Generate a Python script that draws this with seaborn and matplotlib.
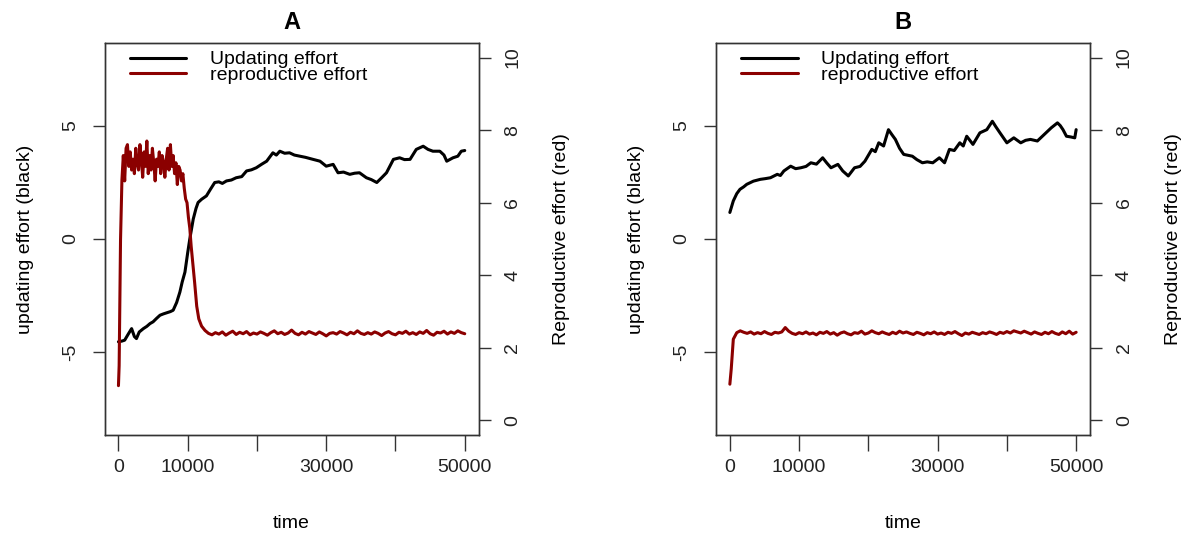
import numpy as np
import pandas as pd
import matplotlib
matplotlib.use("Agg")
import matplotlib.pyplot as plt
import seaborn as sns

# ---- data ----
# panel A, updating effort (left axis)
upd_a_time = [0, 500, 900, 1400, 1900, 2300, 2600, 3000, 3600, 4100,
              4550, 5000, 5500, 6000, 6500, 7000, 7500, 7900, 8400, 8870,
              9200, 9600, 10000, 10300, 10800, 11200, 11500, 12000, 12700, 13300,
              13900, 14500, 15000, 15600, 16300, 17000, 17800, 18500, 19200, 19900,
              20700, 21400, 22300, 22800, 23300, 24000, 24700, 25400, 26200, 27000,
              28100, 29100, 30000, 31000, 31700, 32500, 33400, 34100, 34800, 35800,
              36500, 37300, 38000, 38700, 39700, 40600, 41300, 42100, 43000, 44000,
              44700, 45400, 46400, 47000, 47400, 48300, 49000, 49500, 50000]
upd_a = [-4.53, -4.50, -4.46, -4.2, -3.95, -4.3, -4.39, -4.1, -3.95, -3.85,
         -3.73, -3.65, -3.5, -3.36, -3.3, -3.25, -3.2, -3.14, -2.8, -2.34,
         -1.9, -1.46, -0.6, 0.0, 0.88, 1.35, 1.61, 1.75, 1.90, 2.2,
         2.49, 2.52, 2.45, 2.56, 2.6, 2.70, 2.75, 3.0, 3.05, 3.14,
         3.3, 3.43, 3.80, 3.7, 3.87, 3.78, 3.80, 3.7, 3.65, 3.6,
         3.51, 3.43, 3.21, 3.29, 2.92, 2.95, 2.85, 2.9, 2.92, 2.70,
         2.62, 2.49, 2.7, 2.92, 3.51, 3.58, 3.5, 3.51, 3.95, 4.09,
         3.95, 3.87, 3.87, 3.7, 3.43, 3.58, 3.65, 3.87, 3.9]

# panel A, reproductive effort (right axis)
rep_a_time = ([0, 100, 300, 500] + list(range(700, 9800, 200))
              + [9900, 10100, 10300, 10500, 10800, 11000, 11300, 11600, 12000, 12500]
              + list(range(13000, 50001, 500)))
rep_a = ([0.96, 1.51, 4.98, 6.62]
         + [7.3, 6.6, 7.5, 7.6, 7.0, 7.4, 6.9, 7.2, 6.8, 7.5,
            7.1, 6.9, 7.6, 7.2, 6.7, 7.4, 7.0, 7.7, 6.8, 7.3,
            6.9, 7.5, 7.1, 6.6, 7.2, 7.0, 7.4, 6.8, 7.3, 7.1,
            6.7, 7.2, 7.5, 6.9, 7.6, 7.0, 7.3, 6.8, 7.1, 6.5,
            7.0, 6.9, 6.6, 6.8, 6.4, 6.1]
         + [6.0, 5.6, 5.3, 4.8, 4.2, 3.8, 3.15, 2.8, 2.6, 2.48]
         + [2.40, 2.36, 2.42, 2.38, 2.44, 2.35, 2.41, 2.46, 2.37, 2.43,
            2.39, 2.45, 2.36, 2.41, 2.38, 2.44, 2.40, 2.35, 2.42, 2.47,
            2.39, 2.43, 2.37, 2.41, 2.49, 2.40, 2.36, 2.43, 2.38, 2.45,
            2.41, 2.37, 2.44, 2.39, 2.33, 2.40, 2.42, 2.38, 2.45, 2.41,
            2.36, 2.43, 2.39, 2.47, 2.40, 2.37, 2.42, 2.38, 2.44, 2.40,
            2.34, 2.41, 2.45, 2.39, 2.36, 2.43, 2.40, 2.46, 2.38, 2.42,
            2.37, 2.44, 2.40, 2.48, 2.39, 2.35, 2.43, 2.41, 2.46, 2.38,
            2.44, 2.40, 2.47, 2.42, 2.39])

# panel B, updating effort (left axis)
upd_b_time = [0, 500, 1000, 1460, 2000, 2440, 3400, 4400, 5100, 5860,
              6840, 7300, 7800, 8780, 9500, 10250, 11000, 11700, 12500, 13400,
              14000, 14600, 15600, 16300, 17100, 18000, 18800, 19500, 20500, 21000,
              21500, 22200, 22900, 23400, 23900, 24500, 25100, 26350, 27000, 27800,
              28500, 29300, 30250, 31000, 31700, 32400, 33200, 33700, 34200, 35100,
              36100, 37100, 37900, 38400, 39000, 40000, 41000, 42000, 42700, 43400,
              44400, 45400, 46400, 47300, 47700, 48100, 48600, 49200, 49800, 50000]
upd_b = [1.17, 1.68, 2.0, 2.19, 2.3, 2.41, 2.55, 2.63, 2.66, 2.70,
         2.85, 2.8, 3.0, 3.21, 3.1, 3.14, 3.2, 3.36, 3.3, 3.58,
         3.35, 3.14, 3.29, 3.0, 2.78, 3.14, 3.2, 3.43, 3.95, 3.85,
         4.24, 4.1, 4.82, 4.6, 4.39, 4.0, 3.73, 3.65, 3.5, 3.36,
         3.4, 3.36, 3.58, 3.36, 3.95, 3.9, 4.24, 4.1, 4.53, 4.17,
         4.68, 4.82, 5.19, 4.95, 4.68, 4.24, 4.46, 4.24, 4.35, 4.39,
         4.32, 4.61, 4.90, 5.12, 5.0, 4.82, 4.53, 4.5, 4.46, 4.82]

# panel B, reproductive effort (right axis)
rep_b_time = [0, 200, 500, 1000] + list(range(1500, 50001, 500))
rep_b = ([1.0, 1.42, 2.24, 2.42]
         + [2.47, 2.43, 2.40, 2.44, 2.38, 2.42, 2.39, 2.45, 2.40, 2.37,
            2.43, 2.41, 2.44, 2.56, 2.46, 2.40, 2.37, 2.42, 2.39, 2.44,
            2.38, 2.41, 2.36, 2.43, 2.40, 2.45, 2.38, 2.42, 2.35, 2.41,
            2.44, 2.39, 2.36, 2.42, 2.40, 2.46, 2.38, 2.41, 2.47, 2.42,
            2.39, 2.44, 2.40, 2.37, 2.43, 2.39, 2.46, 2.41, 2.44, 2.40,
            2.37, 2.43, 2.40, 2.36, 2.42, 2.39, 2.44, 2.38, 2.41, 2.37,
            2.43, 2.40, 2.45, 2.39, 2.34, 2.41, 2.38, 2.43, 2.40, 2.37,
            2.42, 2.39, 2.44, 2.41, 2.37, 2.43, 2.40, 2.45, 2.41, 2.47,
            2.44, 2.41, 2.46, 2.42, 2.38, 2.44, 2.40, 2.37, 2.43, 2.39,
            2.45, 2.40, 2.37, 2.44, 2.39, 2.46, 2.38, 2.43])

panel_titles = ["A", "B"]
x_ticks = [0, 10000, 20000, 30000, 40000, 50000]
x_tick_labels = ["0", "10000", "", "30000", "", "50000"]
left_ticks = [-5, 0, 5]
right_ticks = [0, 2, 4, 6, 8, 10]
legend_labels = ["Updating effort", "reproductive effort"]

# ---- style ----
sns.set_style("ticks")
plt.rcParams["font.family"] = ["Liberation Sans", "DejaVu Sans"]
plt.rcParams["font.size"] = 14
plt.rcParams["text.color"] = "black"
plt.rcParams["axes.labelcolor"] = "black"
plt.rcParams["xtick.color"] = "#222222"
plt.rcParams["ytick.color"] = "#222222"

RED = "#8b0000"
EDGE = "#333333"

fig = plt.figure(figsize=(11.89, 5.35), dpi=100)
lefts = [104.6 / 1189, 716 / 1189]
panels = [(upd_a_time, upd_a, rep_a_time, rep_a), (upd_b_time, upd_b, rep_b_time, rep_b)]

for left, title, (ut, uv, rt, rv) in zip(lefts, panel_titles, panels):
    ax = fig.add_axes([left, 100 / 535, 374 / 1189, 392 / 535])
    ax2 = ax.twinx()

    up_df = pd.DataFrame({"time": ut, "effort": uv})
    rep_df = pd.DataFrame({"time": rt, "effort": rv})
    sns.lineplot(data=up_df, x="time", y="effort", ax=ax, color="black",
                 linewidth=2.2, estimator=None, sort=False, legend=False)
    sns.lineplot(data=rep_df, x="time", y="effort", ax=ax2, color=RED,
                 linewidth=2.2, estimator=None, sort=False, legend=False)

    ax.set_xlim(-2000, 52000)
    ax.set_ylim(-8.64, 8.64)
    ax2.set_ylim(-0.4, 10.4)

    ax.set_xticks(x_ticks)
    ax.set_xticklabels(x_tick_labels)
    ax.set_yticks(left_ticks)
    ax.set_yticklabels([str(v) for v in left_ticks])
    ax2.set_yticks(right_ticks)
    ax2.set_yticklabels([str(v) for v in right_ticks])

    ax.tick_params(axis="x", length=11.5, width=1, color=EDGE, pad=6, labelsize=14)
    ax.tick_params(axis="y", length=8.6, width=1, color=EDGE, pad=10,
                   labelsize=14, labelrotation=90)
    ax2.tick_params(axis="y", length=8.6, width=1, color=EDGE, pad=10,
                    labelsize=14, labelrotation=90)
    for lab in ax.get_yticklabels() + ax2.get_yticklabels():
        lab.set_va("center")

    for a in (ax, ax2):
        for sp in a.spines.values():
            sp.set_visible(True)
            sp.set_color(EDGE)
            sp.set_linewidth(1)

    ax.set_xlabel("time", fontsize=14)
    ax.xaxis.set_label_coords(0.5, -0.205)
    ax.set_ylabel("updating effort (black)", fontsize=14)
    ax.yaxis.set_label_coords(-0.19, 0.5)
    ax2.set_ylabel("Reproductive effort (red)", fontsize=14)
    ax2.yaxis.set_label_coords(1.2, 0.5)

    ax.set_title(title, fontsize=17, fontweight="bold", pad=10)

    handles = ax.get_lines()[:1] + ax2.get_lines()[:1]
    leg = ax2.legend(handles, legend_labels, loc="upper left",
                     bbox_to_anchor=(0.068, 0.98), frameon=False, borderpad=0,
                     borderaxespad=0, handlelength=2.9, handletextpad=1.2,
                     labelspacing=-0.1, fontsize=14)

fig.savefig("out.png", dpi=100)
